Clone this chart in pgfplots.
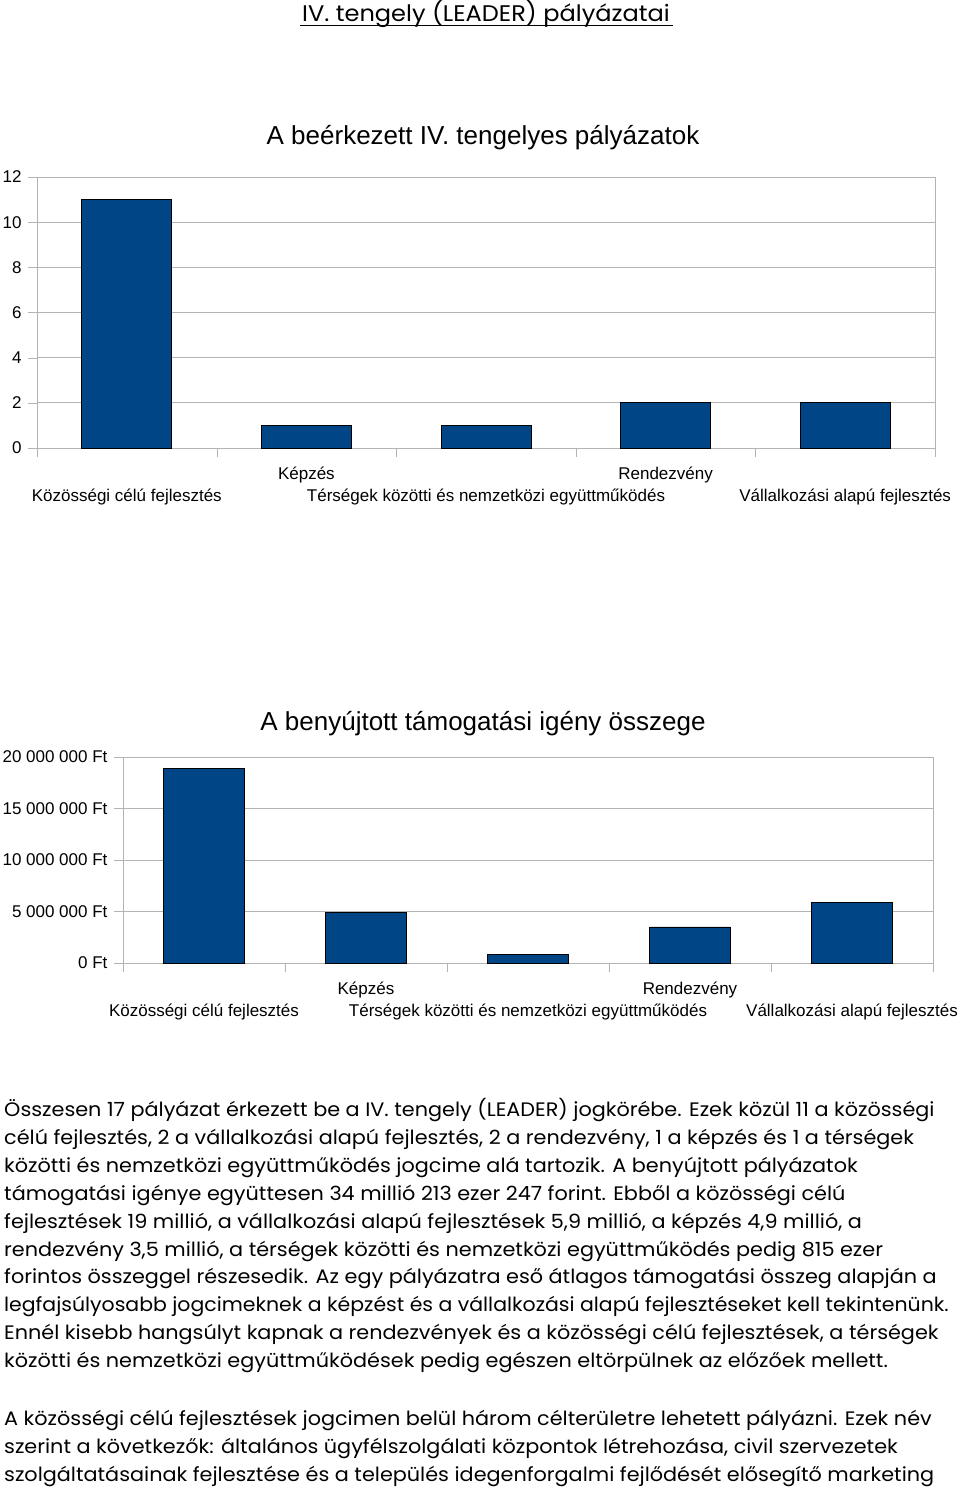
\documentclass[border=0pt]{standalone}
\usepackage{fontspec}
\usepackage{pgfplots}
\pgfplotsset{compat=1.18}
\setmainfont{Poppins}[FakeStretch=1.065]
\newfontfamily\chartfont{Liberation Sans}
\definecolor{barblue}{HTML}{004586}
\definecolor{axgray}{HTML}{B3B3B3}

\newcommand{\lo}[1]{\raisebox{-22pt}{#1}}

\pgfplotsset{
  chart/.style={
    scale only axis,
    anchor=south west,
    xmin=0, xmax=5,
    ymin=0,
    xtick={0,1,2,3,4,5},
    xticklabels={},
    extra x ticks={0.5,1.5,2.5,3.5,4.5},
    extra x tick style={major tick length=0pt,
      tick label style={yshift=-18pt}},
    xticklabel style={anchor=north, inner sep=0pt,
      text height=13pt, text depth=4pt,
      font={\chartfont\fontsize{17}{17}\selectfont}},
    yticklabel style={xshift=-3pt, font={\chartfont\fontsize{17}{17}\selectfont}},
    tick pos=left,
    axis line style={axgray},
    tick style={axgray},
    tick align=outside,
    major tick length=9pt,
    ymajorgrids=true,
    grid style={axgray, line width=0.8pt},
    scaled y ticks=false,
    /pgf/number format/assume math mode=true,
  },
  bars/.style={ybar, bar width=0.5, bar shift=0pt,
    fill=barblue, draw=black, line width=0.8pt},
}

\begin{document}
\begin{tikzpicture}[x=1pt,y=1pt]
\useasboundingbox (0,0) rectangle (960,-1491);

% cim
\node[anchor=base, inner sep=0pt, font={\fontsize{22.6}{22.6}\selectfont}]
  at (486,-21) {IV. tengely (LEADER) pályázatai};
\draw[line width=1.2pt] (300,-25.5) -- (673,-25.5);

% 1. diagram
\node[font={\chartfont\fontsize{26}{26}\selectfont}] at (483,-138)
  {A beérkezett IV. tengelyes pályázatok};
\begin{axis}[chart,
    at={(37pt,-448pt)},
    width=898pt, height=271pt,
    ymax=12, ytick={0,2,...,12},
    extra x tick labels={
      {\lo{Közösségi célú fejlesztés}},
      {Képzés},
      {\lo{Térségek közötti és nemzetközi együttműködés}},
      {Rendezvény},
      {\lo{Vállalkozási alapú fejlesztés}}},
  ]
  \addplot[bars] coordinates {
    (0.5,11) (1.5,1) (2.5,1) (3.5,2) (4.5,2)
  };
\end{axis}

% 2. diagram
\node[font={\chartfont\fontsize{26}{26}\selectfont}] at (483,-724)
  {A benyújtott támogatási igény összege};
\begin{axis}[chart,
    at={(123pt,-963pt)},
    width=810pt, height=206pt,
    ymax=20000000,
    ytick={0,5000000,10000000,15000000,20000000},
    yticklabels={0 Ft,5 000 000 Ft,10 000 000 Ft,15 000 000 Ft,20 000 000 Ft},
    extra x tick labels={
      {\lo{Közösségi célú fejlesztés}},
      {Képzés},
      {\lo{Térségek közötti és nemzetközi együttműködés}},
      {Rendezvény},
      {\lo{Vállalkozási alapú fejlesztés}}},
  ]
  \addplot[bars] coordinates {
    (0.5,18900000) (1.5,4900000) (2.5,815000) (3.5,3500000) (4.5,5900000)
  };
\end{axis}

% szoveg
\begin{scope}[every node/.style={anchor=base west, inner sep=0pt,
    font={\fontsize{19.5}{19.5}\selectfont}}]
\node at (4,-1116) {Összesen 17 pályázat érkezett be a IV. tengely (LEADER) jogkörébe. Ezek közül 11 a közösségi};
\node at (4,-1144) {célú fejlesztés, 2 a vállalkozási alapú fejlesztés, 2 a rendezvény, 1 a képzés és 1 a térségek};
\node at (4,-1172) {közötti és nemzetközi együttműködés jogcime alá tartozik. A benyújtott pályázatok};
\node at (4,-1200) {támogatási igénye együttesen 34 millió 213 ezer 247 forint. Ebből a közösségi célú};
\node at (4,-1228) {fejlesztések 19 millió, a vállalkozási alapú fejlesztések 5,9 millió, a képzés 4,9 millió, a};
\node at (4,-1256) {rendezvény 3,5 millió, a térségek közötti és nemzetközi együttműködés pedig 815 ezer};
\node at (4,-1283) {forintos összeggel részesedik. Az egy pályázatra eső átlagos támogatási összeg alapján a};
\node at (4,-1311) {\scalebox{0.985}[1]{legfajsúlyosabb jogcimeknek a képzést és a vállalkozási alapú fejlesztéseket kell tekintenünk.}};
\node at (4,-1339) {Ennél kisebb hangsúlyt kapnak a rendezvények és a közösségi célú fejlesztések, a térségek};
\node at (4,-1367) {közötti és nemzetközi együttműködések pedig egészen eltörpülnek az előzőek mellett.};
\node at (4,-1425) {A közösségi célú fejlesztések jogcimen belül három célterületre lehetett pályázni. Ezek név};
\node at (4,-1453) {szerint a következők: általános ügyfélszolgálati központok létrehozása, civil szervezetek};
\node at (4,-1481) {szolgáltatásainak fejlesztése és a település idegenforgalmi fejlődését elősegítő marketing};
\end{scope}
\end{tikzpicture}
\end{document}
